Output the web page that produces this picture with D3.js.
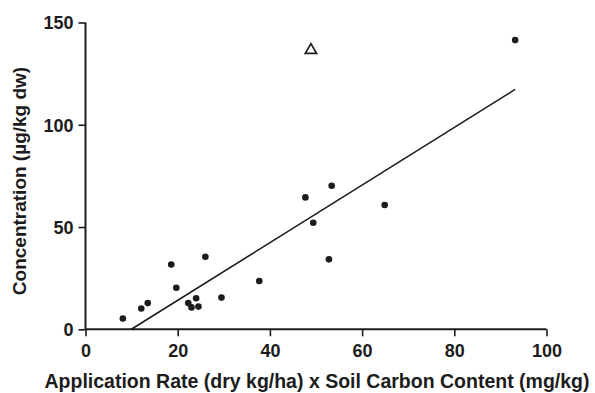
<!DOCTYPE html>
<html>
<head>
<meta charset="utf-8">
<script src="https://cdn.jsdelivr.net/npm/d3@7"></script>
<style>
html,body{margin:0;padding:0;background:#fff;}
svg{display:block;}
text{font-family:"Liberation Sans",Arial,Helvetica,sans-serif;font-weight:bold;fill:#1c1c1c;}
</style>
</head>
<body>
<svg id="chart" width="595" height="393"></svg>
<script>
// Data
const xValues = [8.1, 12.1, 13.5, 18.6, 19.7, 26.0, 22.3, 23.0, 24.0, 24.5, 29.5, 37.7, 47.7, 53.4, 49.4, 52.8, 64.9, 93.2];
const yValues = [5.3, 10.2, 12.8, 31.7, 20.3, 35.5, 12.8, 10.7, 15.2, 11.1, 15.5, 23.6, 64.5, 70.2, 52.1, 34.2, 60.8, 141.4];
const outlierX = [48.9];
const outlierY = [136.5];
const fitLineX = [9.95, 93.2];
const fitLineY = [0, 117.3];
const xTicks = [0, 20, 40, 60, 80, 100];
const yTicks = [0, 50, 100, 150];
const xTitle = "Application Rate (dry kg/ha) x Soil Carbon Content (mg/kg)";
const yTitle = "Concentration (\u00b5g/kg dw)";

const svg = d3.select("#chart");
const mLeft = 85.5, mRight = 546.5, mTop = 22.5, mBottom = 329.3;

const x = d3.scaleLinear().domain([0, 100]).range([mLeft, mRight]);
const y = d3.scaleLinear().domain([0, 150]).range([mBottom, mTop]);

const ink = "#1c1c1c";

// X axis
const gx = svg.append("g").attr("transform", `translate(0,${mBottom})`)
  .call(d3.axisBottom(x).tickValues(xTicks).tickSize(7).tickPadding(8).tickFormat(d3.format("d")));
// Y axis
const gy = svg.append("g").attr("transform", `translate(${mLeft},0)`)
  .call(d3.axisLeft(y).tickValues(yTicks).tickSize(7).tickPadding(5).tickFormat(d3.format("d")));

[gx, gy].forEach(g => {
  g.select(".domain").attr("stroke", ink).attr("stroke-width", 2);
  g.selectAll(".tick line").attr("stroke", ink).attr("stroke-width", 1.6);
  g.selectAll(".tick text").attr("font-size", 18).attr("font-family", "Liberation Sans, Arial, sans-serif").attr("font-weight", "bold").attr("fill", ink);
});
gx.select(".domain").attr("d", `M${mLeft},0H${mRight}`);
gy.select(".domain").attr("d", `M0,${mBottom}V${mTop}`);
gy.selectAll(".tick text").attr("dy", "0.36em");

// Regression line
svg.append("line")
  .attr("x1", x(fitLineX[0])).attr("y1", y(fitLineY[0]))
  .attr("x2", x(fitLineX[1])).attr("y2", y(fitLineY[1]))
  .attr("stroke", ink).attr("stroke-width", 1.6);

// Points
const pts = xValues.map((v, i) => [v, yValues[i]]);
svg.append("g").selectAll("circle").data(pts).join("circle")
  .attr("cx", d => x(d[0])).attr("cy", d => y(d[1])).attr("r", 3.3).attr("fill", ink);

// Outlier triangle
const tri = d3.symbol().type(d3.symbolTriangle).size(55);
svg.append("g").selectAll("path").data(outlierX.map((v, i) => [v, outlierY[i]])).join("path")
  .attr("d", tri)
  .attr("transform", d => `translate(${x(d[0])},${y(d[1])})`)
  .attr("fill", "none").attr("stroke", ink).attr("stroke-width", 1.7);

// Axis titles
svg.append("text")
  .attr("x", (mLeft + mRight) / 2 + 1).attr("y", 388)
  .attr("text-anchor", "middle").attr("font-size", 19.5)
  .text(xTitle);
svg.append("text")
  .attr("transform", `translate(26,181) rotate(-90)`)
  .attr("text-anchor", "middle").attr("font-size", 19)
  .text(yTitle);
</script>
</body>
</html>
